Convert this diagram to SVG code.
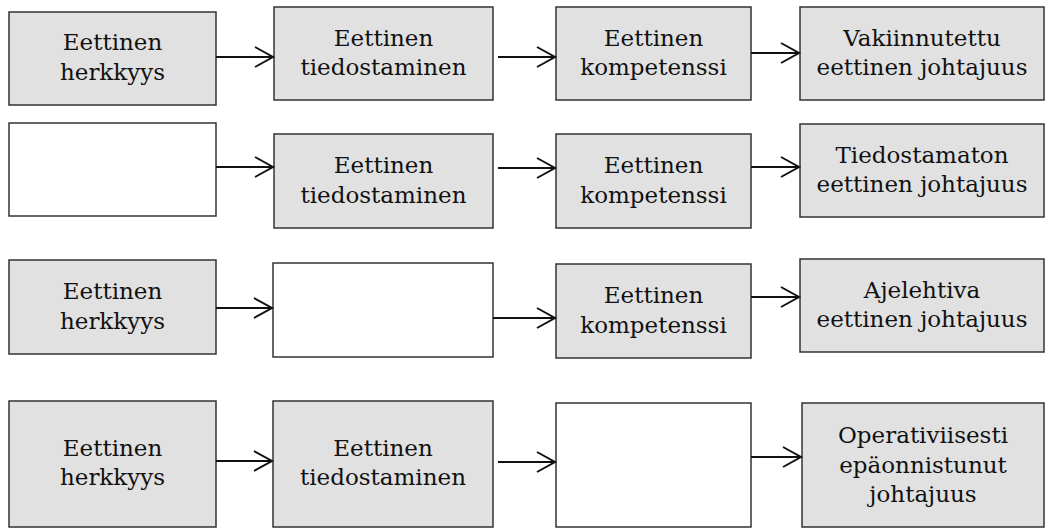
<svg xmlns="http://www.w3.org/2000/svg" width="1053" height="529" viewBox="0 0 1053 529">
  <style>
    .box { stroke: #333333; stroke-width: 1.5; }
    .grey { fill: #e1e1e1; }
    .blank { fill: #ffffff; }
    .label { font-family: "DejaVu Serif", "Liberation Serif", serif; font-size: 23px; fill: #111111; text-anchor: middle; }
    .conn { stroke: #111111; stroke-width: 2; fill: none; marker-end: url(#arrow); }
  </style>
  <defs>
    <marker id="arrow" markerUnits="userSpaceOnUse" markerWidth="24" markerHeight="24" viewBox="-20 -12 24 24" refX="0" refY="0" orient="auto" overflow="visible">
      <path d="M-18,-10 L0,0 L-18,10" fill="none" stroke="#111111" stroke-width="2"/>
    </marker>
  </defs>
  <rect width="1053" height="529" fill="#ffffff"/>

  <!-- Row 1 -->
  <g id="r1-herkkyys">
    <rect class="box grey" x="9" y="12" width="207" height="93"/>
    <text class="label" x="112.5" y="50">Eettinen</text>
    <text class="label" x="112.5" y="80">herkkyys</text>
  </g>
  <g id="r1-tiedostaminen">
    <rect class="box grey" x="274" y="7" width="219" height="93"/>
    <text class="label" x="383.5" y="45.5">Eettinen</text>
    <text class="label" x="383.5" y="75">tiedostaminen</text>
  </g>
  <g id="r1-kompetenssi">
    <rect class="box grey" x="556" y="7" width="195" height="93"/>
    <text class="label" x="653.5" y="45.5">Eettinen</text>
    <text class="label" x="653.5" y="75">kompetenssi</text>
  </g>
  <g id="r1-vakiinnutettu">
    <rect class="box grey" x="800" y="7" width="244" height="93"/>
    <text class="label" x="922" y="45.5">Vakiinnutettu</text>
    <text class="label" x="922" y="75">eettinen johtajuus</text>
  </g>

  <!-- Row 2 -->
  <g id="r2-empty">
    <rect class="box blank" x="9" y="123" width="207" height="93"/>
  </g>
  <g id="r2-tiedostaminen">
    <rect class="box grey" x="274" y="134" width="219" height="94"/>
    <text class="label" x="383.5" y="173">Eettinen</text>
    <text class="label" x="383.5" y="202.5">tiedostaminen</text>
  </g>
  <g id="r2-kompetenssi">
    <rect class="box grey" x="556" y="134" width="195" height="94"/>
    <text class="label" x="653.5" y="173">Eettinen</text>
    <text class="label" x="653.5" y="202.5">kompetenssi</text>
  </g>
  <g id="r2-tiedostamaton">
    <rect class="box grey" x="800" y="124" width="244" height="93"/>
    <text class="label" x="922" y="162.5">Tiedostamaton</text>
    <text class="label" x="922" y="192">eettinen johtajuus</text>
  </g>

  <!-- Row 3 -->
  <g id="r3-herkkyys">
    <rect class="box grey" x="9" y="260" width="207" height="94"/>
    <text class="label" x="112.5" y="299">Eettinen</text>
    <text class="label" x="112.5" y="328.5">herkkyys</text>
  </g>
  <g id="r3-empty">
    <rect class="box blank" x="273" y="263" width="220" height="94"/>
  </g>
  <g id="r3-kompetenssi">
    <rect class="box grey" x="556" y="264" width="195" height="94"/>
    <text class="label" x="653.5" y="303">Eettinen</text>
    <text class="label" x="653.5" y="332.5">kompetenssi</text>
  </g>
  <g id="r3-ajelehtiva">
    <rect class="box grey" x="800" y="259" width="244" height="93"/>
    <text class="label" x="922" y="297.5">Ajelehtiva</text>
    <text class="label" x="922" y="327">eettinen johtajuus</text>
  </g>

  <!-- Row 4 -->
  <g id="r4-herkkyys">
    <rect class="box grey" x="9" y="401" width="207" height="126"/>
    <text class="label" x="112.5" y="455.5">Eettinen</text>
    <text class="label" x="112.5" y="485">herkkyys</text>
  </g>
  <g id="r4-tiedostaminen">
    <rect class="box grey" x="273" y="401" width="220" height="126"/>
    <text class="label" x="383" y="455.5">Eettinen</text>
    <text class="label" x="383" y="485">tiedostaminen</text>
  </g>
  <g id="r4-empty">
    <rect class="box blank" x="556" y="403" width="195" height="124"/>
  </g>
  <g id="r4-operatiivisesti">
    <rect class="box grey" x="802" y="403" width="242" height="124"/>
    <text class="label" x="923" y="443">Operativiisesti</text>
    <text class="label" x="923" y="472.5">epäonnistunut</text>
    <text class="label" x="923" y="502">johtajuus</text>
  </g>

  <!-- Connectors -->
  <g id="connectors">
    <line class="conn" x1="216" y1="57" x2="273" y2="57"/>
    <line class="conn" x1="498" y1="57" x2="555" y2="57"/>
    <line class="conn" x1="751" y1="53" x2="799" y2="53"/>

    <line class="conn" x1="216" y1="167" x2="273" y2="167"/>
    <line class="conn" x1="498" y1="168" x2="555" y2="168"/>
    <line class="conn" x1="751" y1="167" x2="799" y2="167"/>

    <line class="conn" x1="216" y1="308" x2="272" y2="308"/>
    <line class="conn" x1="493" y1="318" x2="555" y2="318"/>
    <line class="conn" x1="751" y1="297" x2="799" y2="297"/>

    <line class="conn" x1="216" y1="461" x2="272" y2="461"/>
    <line class="conn" x1="498" y1="462" x2="555" y2="462"/>
    <line class="conn" x1="751" y1="457" x2="801" y2="457"/>
  </g>
</svg>
